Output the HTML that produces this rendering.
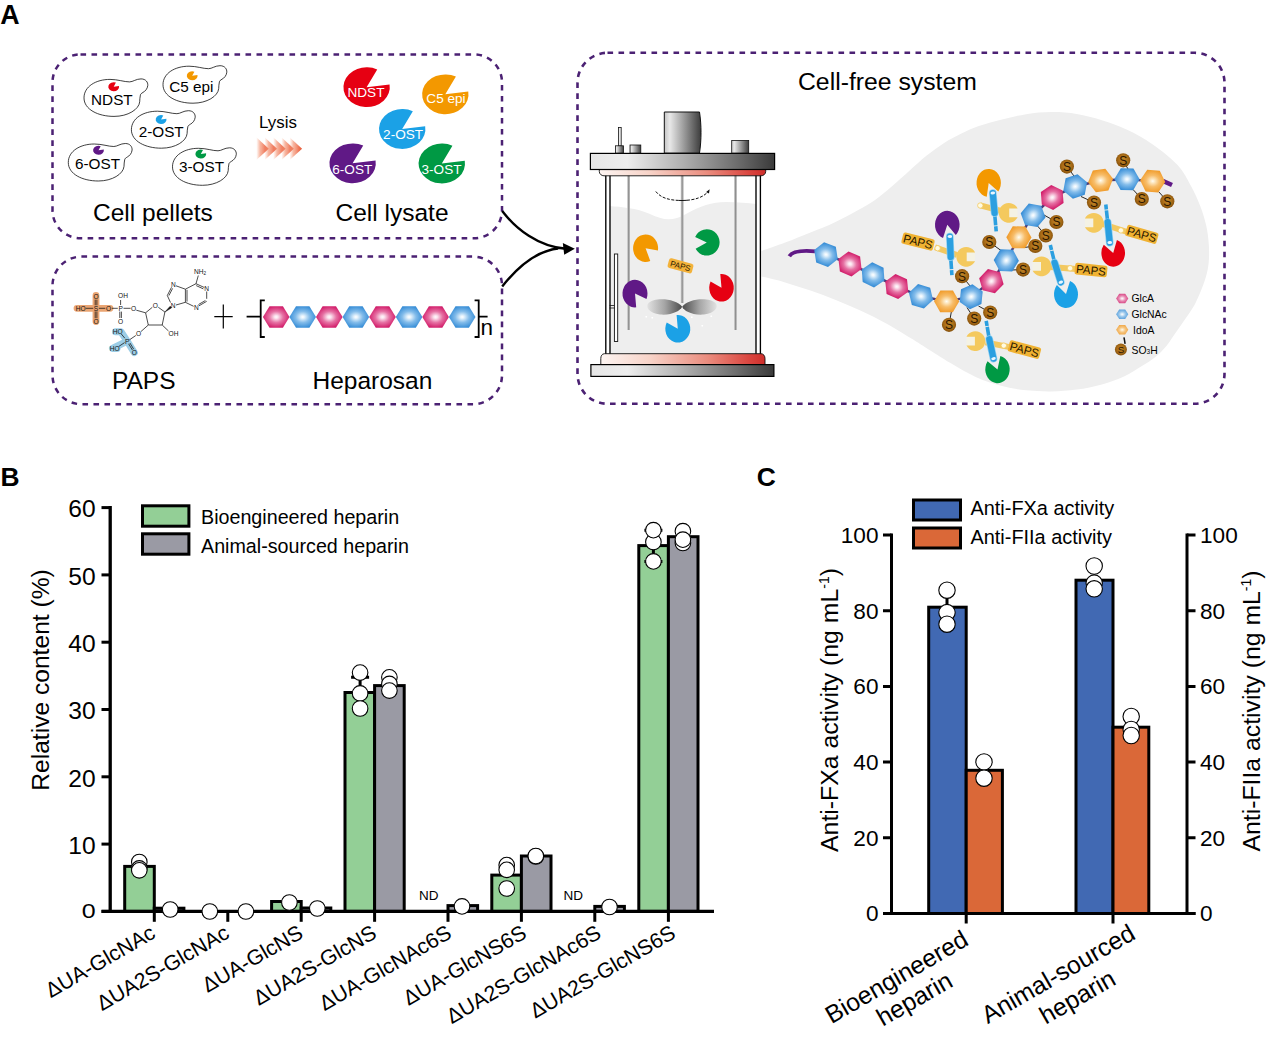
<!DOCTYPE html>
<html lang="en"><head><meta charset="utf-8"><title>Cell-free heparin biosynthesis</title>
<style>
html,body{margin:0;padding:0;background:#fff;}
body{width:1268px;height:1058px;overflow:hidden;font-family:"Liberation Sans", sans-serif;}
svg{display:block;}
svg text{font-family:"Liberation Sans", sans-serif;fill:#000;}
</style></head><body>
<svg width="1268" height="1058" viewBox="0 0 1268 1058">
<defs>
<radialGradient id="hxP" cx="50%" cy="50%" r="58%"><stop offset="0" stop-color="#fffafc"/><stop offset="0.12" stop-color="#fbe3ee"/><stop offset="0.45" stop-color="#e672a4"/><stop offset="0.85" stop-color="#d4246f"/><stop offset="1" stop-color="#c71c66"/></radialGradient>
<radialGradient id="hxB" cx="50%" cy="50%" r="58%"><stop offset="0" stop-color="#ffffff"/><stop offset="0.12" stop-color="#e4f2fc"/><stop offset="0.45" stop-color="#83bcea"/><stop offset="0.85" stop-color="#3e92d9"/><stop offset="1" stop-color="#2f86d0"/></radialGradient>
<radialGradient id="hxO" cx="50%" cy="50%" r="58%"><stop offset="0" stop-color="#fffdf6"/><stop offset="0.12" stop-color="#fdeccb"/><stop offset="0.45" stop-color="#f7bd6a"/><stop offset="0.85" stop-color="#f19f31"/><stop offset="1" stop-color="#ea9525"/></radialGradient>
<linearGradient id="chev" x1="0" y1="0" x2="1" y2="0"><stop offset="0" stop-color="#f7a78a" stop-opacity="0"/><stop offset="0.3" stop-color="#f4987a" stop-opacity="0.7"/><stop offset="0.75" stop-color="#ee7455"/><stop offset="1" stop-color="#e65634"/></linearGradient>
<filter id="blur1" x="-20%" y="-20%" width="140%" height="140%"><feGaussianBlur stdDeviation="0.7"/></filter>

<linearGradient id="lidG" x1="0" y1="0" x2="1" y2="0"><stop offset="0" stop-color="#e6e6e6"/><stop offset="0.2" stop-color="#ededed"/><stop offset="0.5" stop-color="#b0b0b0"/><stop offset="0.8" stop-color="#6c6c6c"/><stop offset="1" stop-color="#3a3a3a"/></linearGradient>
<linearGradient id="motG" x1="0" y1="0" x2="1" y2="0"><stop offset="0" stop-color="#c4c4c4"/><stop offset="0.15" stop-color="#e8e8e8"/><stop offset="0.6" stop-color="#8e8e8e"/><stop offset="1" stop-color="#3c3c3c"/></linearGradient>
<linearGradient id="redG" x1="0" y1="0" x2="1" y2="0"><stop offset="0" stop-color="#fdf5f2"/><stop offset="0.3" stop-color="#f7d3c8"/><stop offset="0.65" stop-color="#ea8c7e"/><stop offset="0.9" stop-color="#da4640"/><stop offset="1" stop-color="#cf2e2b"/></linearGradient>
<linearGradient id="rodG" x1="0" y1="0" x2="1" y2="0"><stop offset="0" stop-color="#d0d0d0"/><stop offset="0.5" stop-color="#8f8f8f"/><stop offset="1" stop-color="#c4c4c4"/></linearGradient>
<linearGradient id="bladeL" x1="0" y1="0" x2="1" y2="0"><stop offset="0" stop-color="#e2e2e2"/><stop offset="0.5" stop-color="#a5a5a5"/><stop offset="1" stop-color="#4c4c4c"/></linearGradient>
<linearGradient id="bladeR" x1="0" y1="0" x2="1" y2="0"><stop offset="0" stop-color="#4c4c4c"/><stop offset="0.5" stop-color="#a5a5a5"/><stop offset="1" stop-color="#e2e2e2"/></linearGradient>

<radialGradient id="sG" cx="50%" cy="45%" r="55%"><stop offset="0" stop-color="#c48a2a"/><stop offset="0.6" stop-color="#a96c17"/><stop offset="1" stop-color="#84500c"/></radialGradient>
</defs>
<g id="panelA"><text x="0.3" y="23.7" font-size="26.8" font-weight="bold">A</text><rect x="52.5" y="54.4" width="449.5" height="183.9" rx="28" ry="28" fill="none" stroke="#4b2173" stroke-width="2.5" stroke-dasharray="5.6 5.4"/><rect x="52.5" y="256.6" width="449.5" height="147.59999999999997" rx="29" ry="29" fill="none" stroke="#4b2173" stroke-width="2.5" stroke-dasharray="5.6 5.4"/><rect x="577.5" y="52.8" width="647.0" height="351.0" rx="30" ry="30" fill="none" stroke="#4b2173" stroke-width="2.6" stroke-dasharray="5.6 5.4"/><path d="M502.2,211 C516,229 538,246.5 566,248.8 M502.2,286.5 C516,269 536,251 558,248.5" fill="none" stroke="#000" stroke-width="2.4"/><path d="M574.8,248.8 L562.8,243 L564.2,254.8 Z" fill="#000"/><g transform="translate(84,78.4)"><path d="M0,19.5C0,8 12,1 26,1C34,1 40,3.5 45.5,3.5C49,3.5 52,0.5 57,0.5C62,0.5 64,4 63.8,7C63.5,10.5 61,13 59,14C57.5,15 56.5,15.5 56.4,16.7C56,19 55.7,21 55.7,23.4C55,31 44,38 30,38C14,38 0,31 0,19.5Z" fill="#fff" stroke="#000" stroke-width="0.75"/><path transform="translate(29.7,8.3) rotate(0)" d="M0,0L5.32,-0.75A5.4,4.5 0 1 1 2.19,-4.11Z" fill="#e60012"/><text x="27.9" y="26.5" font-size="15.3" text-anchor="middle">NDST</text></g><g transform="translate(163,65.2)"><path d="M0,19.5C0,8 12,1 26,1C34,1 40,3.5 45.5,3.5C49,3.5 52,0.5 57,0.5C62,0.5 64,4 63.8,7C63.5,10.5 61,13 59,14C57.5,15 56.5,15.5 56.4,16.7C56,19 55.7,21 55.7,23.4C55,31 44,38 30,38C14,38 0,31 0,19.5Z" fill="#fff" stroke="#000" stroke-width="0.75"/><path transform="translate(29.2,10.6) rotate(0)" d="M0,0L5.32,-0.75A5.4,4.5 0 1 1 2.19,-4.11Z" fill="#f39800"/><text x="28.4" y="26.8" font-size="15.3" text-anchor="middle">C5 epi</text></g><g transform="translate(131.4,110.2)"><path d="M0,19.5C0,8 12,1 26,1C34,1 40,3.5 45.5,3.5C49,3.5 52,0.5 57,0.5C62,0.5 64,4 63.8,7C63.5,10.5 61,13 59,14C57.5,15 56.5,15.5 56.4,16.7C56,19 55.7,21 55.7,23.4C55,31 44,38 30,38C14,38 0,31 0,19.5Z" fill="#fff" stroke="#000" stroke-width="0.75"/><path transform="translate(29.7,9.3) rotate(0)" d="M0,0L5.32,-0.75A5.4,4.5 0 1 1 2.19,-4.11Z" fill="#1ba1e6"/><text x="29.8" y="27.3" font-size="15.3" text-anchor="middle">2-OST</text></g><g transform="translate(68.3,143)"><path d="M0,19.5C0,8 12,1 26,1C34,1 40,3.5 45.5,3.5C49,3.5 52,0.5 57,0.5C62,0.5 64,4 63.8,7C63.5,10.5 61,13 59,14C57.5,15 56.5,15.5 56.4,16.7C56,19 55.7,21 55.7,23.4C55,31 44,38 30,38C14,38 0,31 0,19.5Z" fill="#fff" stroke="#000" stroke-width="0.75"/><path transform="translate(30.2,7.3) rotate(0)" d="M0,0L5.32,-0.75A5.4,4.5 0 1 1 2.19,-4.11Z" fill="#601986"/><text x="29.2" y="25.5" font-size="15.3" text-anchor="middle">6-OST</text></g><g transform="translate(172.5,147.3)"><path d="M0,19.5C0,8 12,1 26,1C34,1 40,3.5 45.5,3.5C49,3.5 52,0.5 57,0.5C62,0.5 64,4 63.8,7C63.5,10.5 61,13 59,14C57.5,15 56.5,15.5 56.4,16.7C56,19 55.7,21 55.7,23.4C55,31 44,38 30,38C14,38 0,31 0,19.5Z" fill="#fff" stroke="#000" stroke-width="0.75"/><path transform="translate(28.3,6.7) rotate(0)" d="M0,0L5.32,-0.75A5.4,4.5 0 1 1 2.19,-4.11Z" fill="#009944"/><text x="29" y="24.8" font-size="15.3" text-anchor="middle">3-OST</text></g><text x="93" y="221" font-size="24.5">Cell pellets</text><text x="259" y="127.5" font-size="16.9">Lysis</text><g filter="url(#blur1)"><path d="M256.3,137.2L268.8,148.8L256.3,160Z" fill="url(#chev)"/><path d="M264.6,137.2L277.1,148.8L264.6,160Z" fill="url(#chev)"/><path d="M273.2,137.2L285.7,148.8L273.2,160Z" fill="url(#chev)"/><path d="M281.4,137.2L293.9,148.8L281.4,160Z" fill="url(#chev)"/><path d="M289.6,137.2L302.1,148.8L289.6,160Z" fill="url(#chev)"/></g><path transform="translate(366.6,87.2) rotate(0)" d="M0,0L22.97,-2.82A23.2,19.9 0 1 1 10.63,-17.69Z" fill="#e60012"/><text x="366" y="97" font-size="13.6" text-anchor="middle" style="fill:#fff">NDST</text><path transform="translate(445.3,94.3) rotate(0)" d="M0,0L22.97,-2.82A23.2,19.9 0 1 1 10.63,-17.69Z" fill="#f39800"/><text x="446" y="102.5" font-size="13.6" text-anchor="middle" style="fill:#fff">C5 epi</text><path transform="translate(402.2,129.0) rotate(0)" d="M0,0L22.97,-2.82A23.2,19.9 0 1 1 10.63,-17.69Z" fill="#1ba1e6"/><text x="403.1" y="139.4" font-size="13.6" text-anchor="middle" style="fill:#fff">2-OST</text><path transform="translate(352.6,163.3) rotate(0)" d="M0,0L22.97,-2.82A23.2,19.9 0 1 1 10.63,-17.69Z" fill="#601986"/><text x="352.3" y="173.7" font-size="13.6" text-anchor="middle" style="fill:#fff">6-OST</text><path transform="translate(441.8,163.5) rotate(0)" d="M0,0L22.97,-2.82A23.2,19.9 0 1 1 10.63,-17.69Z" fill="#009944"/><text x="441.5" y="173.7" font-size="13.6" text-anchor="middle" style="fill:#fff">3-OST</text><text x="335.5" y="221" font-size="24.5">Cell lysate</text><text x="112" y="389" font-size="24.5">PAPS</text><text x="312.5" y="389" font-size="24.5">Heparosan</text><path d="M214.3,316.6H232.7M223.3,304.6V328.6" stroke="#000" stroke-width="1.2" fill="none"/><path transform="translate(276.2,317.0) rotate(0)" d="M-13.3,0.0L-6.7,-10.7L6.7,-10.7L13.3,0.0L6.7,10.7L-6.7,10.7Z" fill="url(#hxP)" /><path transform="translate(302.7,317.0) rotate(0)" d="M-13.3,0.0L-6.7,-10.7L6.7,-10.7L13.3,0.0L6.7,10.7L-6.7,10.7Z" fill="url(#hxB)" /><path transform="translate(329.3,317.0) rotate(0)" d="M-13.3,0.0L-6.7,-10.7L6.7,-10.7L13.3,0.0L6.7,10.7L-6.7,10.7Z" fill="url(#hxP)" /><path transform="translate(355.9,317.0) rotate(0)" d="M-13.3,0.0L-6.7,-10.7L6.7,-10.7L13.3,0.0L6.7,10.7L-6.7,10.7Z" fill="url(#hxB)" /><path transform="translate(382.5,317.0) rotate(0)" d="M-13.3,0.0L-6.7,-10.7L6.7,-10.7L13.3,0.0L6.7,10.7L-6.7,10.7Z" fill="url(#hxP)" /><path transform="translate(409.1,317.0) rotate(0)" d="M-13.3,0.0L-6.7,-10.7L6.7,-10.7L13.3,0.0L6.7,10.7L-6.7,10.7Z" fill="url(#hxB)" /><path transform="translate(435.6,317.0) rotate(0)" d="M-13.3,0.0L-6.7,-10.7L6.7,-10.7L13.3,0.0L6.7,10.7L-6.7,10.7Z" fill="url(#hxP)" /><path transform="translate(462.2,317.0) rotate(0)" d="M-13.3,0.0L-6.7,-10.7L6.7,-10.7L13.3,0.0L6.7,10.7L-6.7,10.7Z" fill="url(#hxB)" /><path d="M246.6,316.6H260.7M264.8,300.4H260.7V337H264.8M474.6,300.4H478.7V337H474.6M478.7,316.6H487.6" stroke="#000" stroke-width="1.8" fill="none"/><text x="480.6" y="335.3" font-size="22.5">n</text><g id="paps-mol"><path d="M77,308.3H110M96,295.5V321.5" stroke="#e9a06b" stroke-width="6.8" stroke-linecap="round" fill="none" opacity="0.95"/><path d="M115.5,331.8H121L127.2,341.2L134.3,352.6M127.2,341.2L112.5,348.5H117" stroke="#9ccde6" stroke-width="7" stroke-linecap="round" stroke-linejoin="round" fill="none"/><path d="M85.8,308.3H93.3M98.8,308.3H105.3M95.2,299.6V305.3M96.9,299.6V305.3M95.2,311.4V318.2M96.9,311.4V318.2M111.8,308.3H117.8M120.6,300V305M119.8,311.6V318M121.4,311.6V318M123.5,308.3H130.6M136.3,310.2L145.6,312.8M145.6,312.8L152.3,307.3M158.3,307.3L164.9,312M164.9,312L162.2,325M162.2,325H148.3M148.3,325L145.6,312.8M148.3,325L141,331.5M162.2,325L168.5,331M135.8,335.5L129.5,339.8M124.8,338.2L121.3,334M124.6,342.6L119,346.3M128.6,343.8L132.4,350M129.9,343L133.7,349.2M170.5,302.5L167.3,295.5M167.3,295.5L171.5,287.3M168.9,295.6L172.6,288.4M176,285.8L185.4,289.2M185.4,289.2V302.3M185.4,302.3L176,305M185.4,289.2L196,283.7M196,283.7L204.3,287.5M196.2,285.6L203.4,288.9M206.7,291.5V298.8M206.7,301.3L199,305.8M205.4,300.5L198.5,304.5M193.6,306.3L185.4,302.3M187,289.8V301.6M196,283.7L198.3,275.5" stroke="#111" stroke-width="0.75" fill="none"/><path d="M164.9,312L170.2,306.2L171.6,307.8Z" fill="#111" stroke="#111" stroke-width="0.5"/><text x="80.7" y="310.7" font-size="6.6" text-anchor="middle" style="fill:#111">HO</text><text x="96" y="310.7" font-size="6.6" text-anchor="middle" style="fill:#111">S</text><text x="96" y="298.9" font-size="6.6" text-anchor="middle" style="fill:#111">O</text><text x="96" y="323.7" font-size="6.6" text-anchor="middle" style="fill:#111">O</text><text x="108.6" y="310.7" font-size="6.6" text-anchor="middle" style="fill:#111">O</text><text x="120.6" y="310.7" font-size="6.6" text-anchor="middle" style="fill:#111">P</text><text x="123" y="298.4" font-size="6.6" text-anchor="middle" style="fill:#111">OH</text><text x="120.6" y="323.5" font-size="6.6" text-anchor="middle" style="fill:#111">O</text><text x="133.5" y="311.0" font-size="6.6" text-anchor="middle" style="fill:#111">O</text><text x="155.4" y="308.0" font-size="6.6" text-anchor="middle" style="fill:#111">O</text><text x="173.5" y="335.9" font-size="6.6" text-anchor="middle" style="fill:#111">OH</text><text x="138.5" y="335.9" font-size="6.6" text-anchor="middle" style="fill:#111">O</text><text x="127.2" y="343.7" font-size="6.6" text-anchor="middle" style="fill:#111">P</text><text x="117.8" y="334.2" font-size="6.6" text-anchor="middle" style="fill:#111">HO</text><text x="114.6" y="350.9" font-size="6.6" text-anchor="middle" style="fill:#111">HO</text><text x="134.3" y="355.0" font-size="6.6" text-anchor="middle" style="fill:#111">O</text><text x="173.2" y="308.1" font-size="6.6" text-anchor="middle" style="fill:#111">N</text><text x="173.4" y="287.4" font-size="6.6" text-anchor="middle" style="fill:#111">N</text><text x="206.7" y="291.3" font-size="6.6" text-anchor="middle" style="fill:#111">N</text><text x="196.4" y="309.9" font-size="6.6" text-anchor="middle" style="fill:#111">N</text><text x="194" y="273.8" font-size="6.6" style="fill:#111">NH<tspan font-size="4.6" dy="1.4">2</tspan></text></g><path d="M761.5,251C765.5,249.6 777.0,245.7 785.2,242.6C793.4,239.5 802.3,235.8 810.5,232.5C818.7,229.2 826.7,226.2 834.5,222.5C842.3,218.8 850.6,214.2 857.3,210.5C864.0,206.8 868.9,204.2 874.7,200.2C880.5,196.2 886.2,191.2 892,186.3C897.8,181.4 903.6,175.8 909.4,170.7C915.2,165.6 920.9,160.1 926.7,155.5C932.5,150.9 938.3,146.7 944.1,143C949.9,139.3 955.6,136.3 961.4,133.5C967.2,130.7 972.2,128.3 978.8,126C985.4,123.7 993.1,121.7 1001,119.7C1008.9,117.7 1017.8,115.5 1026.2,114.2C1034.6,112.9 1043.0,112.1 1051.4,112.1C1059.8,112.0 1068.3,112.6 1076.7,113.9C1085.1,115.2 1093.5,117.5 1101.9,120.2C1110.3,122.9 1118.7,125.8 1127.1,129.8C1135.5,133.8 1144.0,138.3 1152.4,144.2C1160.8,150.1 1171.2,158.0 1177.6,165C1184.0,172.0 1187.2,179.1 1191,186C1194.8,192.9 1198.0,200.1 1200.5,206.7C1203.0,213.3 1204.8,219.3 1206.2,225.6C1207.6,231.9 1208.4,238.2 1208.8,244.5C1209.2,250.8 1209.3,257.3 1208.6,263.4C1207.9,269.5 1206.7,274.6 1204.6,281C1202.5,287.4 1198.5,296.7 1196,302C1193.5,307.3 1191.8,309.3 1189.4,313C1187.0,316.7 1184.2,320.5 1181.6,324.2C1179.0,327.9 1176.5,331.5 1173.9,335.2C1171.3,338.9 1169.3,342.5 1166.2,346.2C1163.1,349.9 1159.1,354.0 1155.1,357.3C1151.0,360.6 1147.1,362.9 1141.9,366.1C1136.7,369.3 1130.7,373.4 1124,376.5C1117.3,379.6 1109.8,382.3 1101.9,384.5C1094.0,386.7 1085.1,388.5 1076.7,389.6C1068.3,390.8 1059.8,391.3 1051.4,391.4C1043.0,391.5 1034.6,391.2 1026.2,390.3C1017.8,389.4 1009.4,388.0 1001,385.8C992.6,383.6 984.1,380.8 975.7,377C967.3,373.2 958.9,368.1 950.5,363.1C942.1,358.2 931.7,351.4 925.2,347.3C918.7,343.2 917.9,342.6 911.4,338.6C904.9,334.6 894.6,328.0 886.2,323.4C877.8,318.8 869.3,314.7 860.9,310.8C852.5,306.9 844.1,303.4 835.7,300C827.3,296.6 818.9,293.5 810.5,290.6C802.1,287.7 793.4,284.8 785.2,282.4C777.0,280.0 765.5,277.5 761.5,276.5Z" fill="#eeeeee"/><g id="reactor"><path d="M609.5,206 C622,207 636,208 650,214 C663,220 672,222 686,214 C700,206 712,202 726,202 C738,202 748,203 756,204 V354 H609.5Z" fill="#eeeeee"/><path d="M605.8,175V355M610,175V355M756,175V355M760.4,175V355" stroke="#000" stroke-width="1.35" fill="none"/><rect x="627.2" y="175" width="2.8" height="155" fill="url(#rodG)"/><rect x="734.1" y="175" width="2.8" height="155" fill="url(#rodG)"/><rect x="680.7" y="175" width="3" height="128" fill="url(#rodG)"/><path d="M655.8,191.5 C661,198 669,200.4 682,200.5 C695,200.4 704,197 708.6,191" stroke="#111" stroke-width="1" fill="none" stroke-dasharray="3 1.5 3 1.5 3 1.5 3 1.5 3 1.5 14 1.5 3 1.5 3 1.5 3 1.5 3 1.5 3 1.5 3 1.5"/><path d="M709.6,189.2L706.2,192L709,193.4Z" fill="#111"/><rect x="614.4" y="254" width="3.3" height="87.5" fill="#fff" stroke="#111" stroke-width="0.9"/><path d="M609.6,305.5H614.4M609.6,308H614.4" stroke="#111" stroke-width="0.8"/><path d="M682.2,306.8 C676,298 654,297 648.5,303 C645,307 649,313 660,314.5 C672,315.5 680,311 682.2,306.8Z" fill="url(#bladeL)"/><path d="M682.2,306.8 C688,298 710,297 715.5,303 C719,307 715,313 704,314.5 C692,315.5 684,311 682.2,306.8Z" fill="url(#bladeR)"/><path d="M645.5,316h1.6v1.6h-1.6zM651.5,317h1.6v1.6h-1.6zM691,316.5h1.6v1.6h-1.6zM701.5,325h1.6v1.6h-1.6zM710.5,315.5h1.6v1.6h-1.6z" fill="#fff"/><path d="M599.3,169H765.7V171.5C765.7,174 763.5,175.8 761,175.8H604C601.5,175.8 599.3,174 599.3,171.5Z" fill="url(#redG)" stroke="#111" stroke-width="0.9"/><rect x="590.4" y="153.4" width="184.2" height="16.1" fill="url(#lidG)" stroke="#000" stroke-width="1.2"/><path d="M664.3,112H699.5C701.5,125 701.5,140 699.5,153H664.3Z" fill="url(#motG)" stroke="#111" stroke-width="1"/><rect x="618.6" y="127.5" width="2.6" height="18.5" fill="#e8e8e8" stroke="#111" stroke-width="0.8"/><rect x="615.4" y="145.8" width="8" height="7.2" fill="url(#motG)" stroke="#111" stroke-width="0.8"/><rect x="630" y="145" width="10.8" height="8" fill="url(#motG)" stroke="#111" stroke-width="0.8"/><rect x="731.7" y="140.4" width="17" height="12.6" fill="url(#motG)" stroke="#111" stroke-width="0.8"/><path d="M604.5,353.7H761C763.5,353.7 765,356 765,358.5V364.8H600.8V358.5C600.8,356 602,353.7 604.5,353.7Z" fill="url(#redG)" stroke="#111" stroke-width="0.9"/><rect x="590.9" y="364.6" width="183" height="11.8" fill="url(#lidG)" stroke="#000" stroke-width="1.2"/><path transform="translate(645.6,248.2) rotate(0)" d="M0,0L4.66,12.80A12.5,13.8 0 1 1 12.34,2.18Z" fill="#f39800"/><path transform="translate(706.8,242.4) rotate(0)" d="M0,0L-11.66,-5.44A12.8,13.2 0 1 1 -11.17,6.45Z" fill="#009944"/><path transform="translate(635.0,293.6) rotate(0)" d="M0,0L1.20,13.74A12.5,13.8 0 1 1 11.51,5.37Z" fill="#601986"/><path transform="translate(721.5,287.8) rotate(0)" d="M0,0L-1.20,-13.73A12.3,13.8 0 1 1 -10.94,-6.31Z" fill="#e60012"/><path transform="translate(677.8,328.8) rotate(0)" d="M0,0L-1.20,-13.74A12.5,13.8 0 1 1 -11.08,-6.40Z" fill="#1ba1e6"/><g transform="translate(680.5,265.8) rotate(15)"><rect x="-12.6" y="-5" width="25.2" height="10" rx="2.3" fill="#f3b23a"/><text x="0" y="2.9" font-size="8" text-anchor="middle" style="fill:#2a1a00">PAPS</text></g></g><text x="798" y="89.8" font-size="24.75">Cell-free system</text><g id="chain"><path d="M789.3,256.2 C792,251.8 800,250 815,251.3" stroke="#601986" stroke-width="3.8" fill="none"/><path d="M1163,181L1172,185" stroke="#601986" stroke-width="4.6" fill="none"/><path d="M949,324.8L951.3,312" stroke="#111" stroke-width="0.9"/><path d="M974.2,318.6L967,307.5" stroke="#111" stroke-width="0.9"/><path d="M990.2,312.5L978.5,306" stroke="#111" stroke-width="0.9"/><path d="M962.1,276.2L970.5,286.5" stroke="#111" stroke-width="0.9"/><path d="M989.3,242L1001,250.5" stroke="#111" stroke-width="0.9"/><path d="M1023.1,269.6L1011.5,270" stroke="#111" stroke-width="0.9"/><path d="M1035.3,246L1024,247.5" stroke="#111" stroke-width="0.9"/><path d="M1045.8,235.5L1037.5,226" stroke="#111" stroke-width="0.9"/><path d="M1056.4,222L1044,215" stroke="#111" stroke-width="0.9"/><path d="M1066.9,166.6L1074,176" stroke="#111" stroke-width="0.9"/><path d="M1094,202.5L1081,196.5" stroke="#111" stroke-width="0.9"/><path d="M1123.2,160.3L1128,169" stroke="#111" stroke-width="0.9"/><path d="M1141.8,199L1133,189.5" stroke="#111" stroke-width="0.9"/><path d="M1167.3,201.3L1158.5,191.5" stroke="#111" stroke-width="0.9"/><path d="M826,254.6L850,263.9L873.1,274.9L896.8,286.6L921,296.3L946.6,301.4L971.2,296.7L991.4,281.2L1006.3,260.4L1018.9,237.3L1033.1,215.3L1052.2,197.5L1075.2,186.5L1100.6,180.5L1127,179.2L1152.7,181.1" stroke="#4a3a78" stroke-width="2.4" fill="none"/><path transform="translate(826.0,254.6) rotate(21.2)" d="M-12.6,0.0L-6.3,-10.9L6.3,-10.9L12.6,0.0L6.3,10.9L-6.3,10.9Z" fill="url(#hxB)" /><path transform="translate(850.0,263.9) rotate(23.3)" d="M-12.6,0.0L-6.3,-10.9L6.3,-10.9L12.6,0.0L6.3,10.9L-6.3,10.9Z" fill="url(#hxP)" /><path transform="translate(873.1,274.9) rotate(25.9)" d="M-12.6,0.0L-6.3,-10.9L6.3,-10.9L12.6,0.0L6.3,10.9L-6.3,10.9Z" fill="url(#hxB)" /><path transform="translate(896.8,286.6) rotate(24.1)" d="M-12.6,0.0L-6.3,-10.9L6.3,-10.9L12.6,0.0L6.3,10.9L-6.3,10.9Z" fill="url(#hxP)" /><path transform="translate(921.0,296.3) rotate(16.6)" d="M-12.6,0.0L-6.3,-10.9L6.3,-10.9L12.6,0.0L6.3,10.9L-6.3,10.9Z" fill="url(#hxB)" /><path transform="translate(946.6,301.4) rotate(0.5)" d="M-12.6,0.0L-6.3,-10.9L6.3,-10.9L12.6,0.0L6.3,10.9L-6.3,10.9Z" fill="url(#hxO)" /><path transform="translate(971.2,296.7) rotate(-24.3)" d="M-12.6,0.0L-6.3,-10.9L6.3,-10.9L12.6,0.0L6.3,10.9L-6.3,10.9Z" fill="url(#hxB)" /><path transform="translate(991.4,281.2) rotate(-46.0)" d="M-12.6,0.0L-6.3,-10.9L6.3,-10.9L12.6,0.0L6.3,10.9L-6.3,10.9Z" fill="url(#hxP)" /><path transform="translate(1006.3,260.4) rotate(-57.9)" d="M-12.6,0.0L-6.3,-10.9L6.3,-10.9L12.6,0.0L6.3,10.9L-6.3,10.9Z" fill="url(#hxB)" /><path transform="translate(1018.9,237.3) rotate(-59.3)" d="M-12.6,0.0L-6.3,-10.9L6.3,-10.9L12.6,0.0L6.3,10.9L-6.3,10.9Z" fill="url(#hxO)" /><path transform="translate(1033.1,215.3) rotate(-50.1)" d="M-12.6,0.0L-6.3,-10.9L6.3,-10.9L12.6,0.0L6.3,10.9L-6.3,10.9Z" fill="url(#hxB)" /><path transform="translate(1052.2,197.5) rotate(-34.4)" d="M-12.6,0.0L-6.3,-10.9L6.3,-10.9L12.6,0.0L6.3,10.9L-6.3,10.9Z" fill="url(#hxP)" /><path transform="translate(1075.2,186.5) rotate(-19.4)" d="M-12.6,0.0L-6.3,-10.9L6.3,-10.9L12.6,0.0L6.3,10.9L-6.3,10.9Z" fill="url(#hxB)" /><path transform="translate(1100.6,180.5) rotate(-8.0)" d="M-12.6,0.0L-6.3,-10.9L6.3,-10.9L12.6,0.0L6.3,10.9L-6.3,10.9Z" fill="url(#hxO)" /><path transform="translate(1127.0,179.2) rotate(0.7)" d="M-12.6,0.0L-6.3,-10.9L6.3,-10.9L12.6,0.0L6.3,10.9L-6.3,10.9Z" fill="url(#hxB)" /><path transform="translate(1152.7,181.1) rotate(4.2)" d="M-12.6,0.0L-6.3,-10.9L6.3,-10.9L12.6,0.0L6.3,10.9L-6.3,10.9Z" fill="url(#hxO)" /><circle cx="949" cy="324.8" r="7.1" fill="url(#sG)"/><text x="949" y="329.1" font-size="12" text-anchor="middle" style="fill:#2a1500">S</text><circle cx="974.2" cy="318.6" r="7.1" fill="url(#sG)"/><text x="974.2" y="322.9" font-size="12" text-anchor="middle" style="fill:#2a1500">S</text><circle cx="990.2" cy="312.5" r="7.1" fill="url(#sG)"/><text x="990.2" y="316.8" font-size="12" text-anchor="middle" style="fill:#2a1500">S</text><circle cx="962.1" cy="276.2" r="7.1" fill="url(#sG)"/><text x="962.1" y="280.5" font-size="12" text-anchor="middle" style="fill:#2a1500">S</text><circle cx="989.3" cy="242" r="7.1" fill="url(#sG)"/><text x="989.3" y="246.3" font-size="12" text-anchor="middle" style="fill:#2a1500">S</text><circle cx="1023.1" cy="269.6" r="7.1" fill="url(#sG)"/><text x="1023.1" y="273.9" font-size="12" text-anchor="middle" style="fill:#2a1500">S</text><circle cx="1035.3" cy="246" r="7.1" fill="url(#sG)"/><text x="1035.3" y="250.3" font-size="12" text-anchor="middle" style="fill:#2a1500">S</text><circle cx="1045.8" cy="235.5" r="7.1" fill="url(#sG)"/><text x="1045.8" y="239.8" font-size="12" text-anchor="middle" style="fill:#2a1500">S</text><circle cx="1056.4" cy="222" r="7.1" fill="url(#sG)"/><text x="1056.4" y="226.3" font-size="12" text-anchor="middle" style="fill:#2a1500">S</text><circle cx="1066.9" cy="166.6" r="7.1" fill="url(#sG)"/><text x="1066.9" y="170.9" font-size="12" text-anchor="middle" style="fill:#2a1500">S</text><circle cx="1094" cy="202.5" r="7.1" fill="url(#sG)"/><text x="1094" y="206.8" font-size="12" text-anchor="middle" style="fill:#2a1500">S</text><circle cx="1123.2" cy="160.3" r="7.1" fill="url(#sG)"/><text x="1123.2" y="164.6" font-size="12" text-anchor="middle" style="fill:#2a1500">S</text><circle cx="1141.8" cy="199" r="7.1" fill="url(#sG)"/><text x="1141.8" y="203.3" font-size="12" text-anchor="middle" style="fill:#2a1500">S</text><circle cx="1167.3" cy="201.3" r="7.1" fill="url(#sG)"/><text x="1167.3" y="205.6" font-size="12" text-anchor="middle" style="fill:#2a1500">S</text><path d="M935,247.3L957,255" stroke="#f2c860" stroke-width="5.8"/><circle cx="937.6" cy="248.2" r="2.7" fill="#fffbe3" stroke="#f2c860" stroke-width="0.8"/><g transform="translate(918,241.6) rotate(14)"><rect x="-16.2" y="-5.8" width="32.4" height="11.6" rx="2.2" fill="#f0b232"/><text x="0" y="4.1" font-size="11.5" text-anchor="middle" style="fill:#2a1800">PAPS</text></g><g transform="translate(966.2,256.8) scale(1,1)"><rect x="0.3" y="-4.4" width="8.6" height="8.8" fill="#f4f2e4"/><path d="M8.9,-4.4L0.5,-4.4L0.5,4.4L8.9,4.4A9.9,9.9 0 1 1 8.9,-4.4Z" fill="#f4c95d"/></g><path d="M951.9,275.2L950.7,257" stroke="#2b9fe0" stroke-width="3.6" stroke-dasharray="5.1 0.9 9.1 0.9 18.2" fill="none"/><path d="M950.7,257L949.8,236.5" stroke="#8fd0f2" stroke-width="7.6" stroke-linecap="round" fill="none"/><path d="M950.7,257L949.8,236.5" stroke="#2b9fe0" stroke-width="6.2" stroke-linecap="round" fill="none"/><ellipse transform="translate(949.8,236.5) rotate(-182.5)" rx="2.3" ry="1.5" fill="#e9f7ff"/><path transform="translate(947.3,224.8) rotate(0)" d="M0,0L-4.27,13.13A12.3,14 0 1 1 8.50,10.12Z" fill="#601986"/><path d="M980.3,205.4L1000,210.6" stroke="#f2c860" stroke-width="5.8"/><circle cx="980.3" cy="205.5" r="2.7" fill="#fffbe3" stroke="#f2c860" stroke-width="0.8"/><g transform="translate(1008.7,212.9) scale(1,1)"><rect x="0.3" y="-4.4" width="8.6" height="8.8" fill="#f4f2e4"/><path d="M8.9,-4.4L0.5,-4.4L0.5,4.4L8.9,4.4A9.9,9.9 0 1 1 8.9,-4.4Z" fill="#f4c95d"/></g><path d="M996.2,231.4L994.6,213" stroke="#2b9fe0" stroke-width="3.6" stroke-dasharray="5.2 0.9 9.2 0.9 18.5" fill="none"/><path d="M994.6,213L992.8,193" stroke="#8fd0f2" stroke-width="7.6" stroke-linecap="round" fill="none"/><path d="M994.6,213L992.8,193" stroke="#2b9fe0" stroke-width="6.2" stroke-linecap="round" fill="none"/><ellipse transform="translate(992.8,193) rotate(-185.1)" rx="2.3" ry="1.5" fill="#e9f7ff"/><path transform="translate(988.7,182.9) rotate(0)" d="M0,0L-1.94,13.82A12.2,14 0 1 1 9.60,8.64Z" fill="#f39800"/><g transform="translate(1041.5,266.3) scale(-1,1)"><rect x="0.3" y="-4.4" width="8.6" height="8.8" fill="#f4f2e4"/><path d="M8.9,-4.4L0.5,-4.4L0.5,4.4L8.9,4.4A9.9,9.9 0 1 1 8.9,-4.4Z" fill="#f4c95d"/></g><path d="M1050.5,267L1076,269" stroke="#f2c860" stroke-width="5.8"/><circle cx="1070.1" cy="268.2" r="2.7" fill="#fffbe3" stroke="#f2c860" stroke-width="0.8"/><g transform="translate(1091,270.1) rotate(6)"><rect x="-16.2" y="-5.8" width="32.4" height="11.6" rx="2.2" fill="#f0b232"/><text x="0" y="4.1" font-size="11.5" text-anchor="middle" style="fill:#2a1800">PAPS</text></g><path transform="translate(1066.0,294.1) rotate(0)" d="M0,0L4.01,-13.10A12,13.9 0 1 1 -9.08,-9.08Z" fill="#1ba1e6"/><path d="M1050.3,245L1054.6,262.6" stroke="#2b9fe0" stroke-width="3.6" stroke-dasharray="5.1 0.9 9.1 0.9 18.1" fill="none"/><path d="M1054.6,262.6L1060.8,282.2" stroke="#8fd0f2" stroke-width="7.6" stroke-linecap="round" fill="none"/><path d="M1054.6,262.6L1060.8,282.2" stroke="#2b9fe0" stroke-width="6.2" stroke-linecap="round" fill="none"/><ellipse transform="translate(1060.8,282.2) rotate(-17.6)" rx="2.3" ry="1.5" fill="#e9f7ff"/><g transform="translate(1093.8,222.8) scale(-1,1)"><rect x="0.3" y="-4.4" width="8.6" height="8.8" fill="#f4f2e4"/><path d="M8.9,-4.4L0.5,-4.4L0.5,4.4L8.9,4.4A9.9,9.9 0 1 1 8.9,-4.4Z" fill="#f4c95d"/></g><path d="M1102.6,224L1126.5,231.8" stroke="#f2c860" stroke-width="5.8"/><circle cx="1120.9" cy="230.4" r="2.7" fill="#fffbe3" stroke="#f2c860" stroke-width="0.8"/><g transform="translate(1141.8,234.4) rotate(16)"><rect x="-16.2" y="-5.8" width="32.4" height="11.6" rx="2.2" fill="#f0b232"/><text x="0" y="4.1" font-size="11.5" text-anchor="middle" style="fill:#2a1800">PAPS</text></g><path transform="translate(1113.2,253.0) rotate(0)" d="M0,0L3.73,-13.00A11.8,13.7 0 1 1 -9.45,-8.21Z" fill="#e60012"/><path d="M1105.8,204.5L1107.7,222.2" stroke="#2b9fe0" stroke-width="3.6" stroke-dasharray="5.0 0.9 8.9 0.9 17.8" fill="none"/><path d="M1107.7,222.2L1109.7,242.6" stroke="#8fd0f2" stroke-width="7.6" stroke-linecap="round" fill="none"/><path d="M1107.7,222.2L1109.7,242.6" stroke="#2b9fe0" stroke-width="6.2" stroke-linecap="round" fill="none"/><ellipse transform="translate(1109.7,242.6) rotate(-5.6)" rx="2.3" ry="1.5" fill="#e9f7ff"/><g transform="translate(975.4,341.1) scale(-1,1)"><rect x="0.3" y="-4.4" width="8.6" height="8.8" fill="#f4f2e4"/><path d="M8.9,-4.4L0.5,-4.4L0.5,4.4L8.9,4.4A9.9,9.9 0 1 1 8.9,-4.4Z" fill="#f4c95d"/></g><path d="M985.5,342.4L1008.5,346.9" stroke="#f2c860" stroke-width="5.8"/><circle cx="1003.8" cy="345.6" r="2.7" fill="#fffbe3" stroke="#f2c860" stroke-width="0.8"/><g transform="translate(1024.4,349.6) rotate(15)"><rect x="-16.2" y="-5.8" width="32.4" height="11.6" rx="2.2" fill="#f0b232"/><text x="0" y="4.1" font-size="11.5" text-anchor="middle" style="fill:#2a1800">PAPS</text></g><path transform="translate(997.5,369.4) rotate(0)" d="M0,0L2.85,-13.42A12.2,13.8 0 1 1 -9.92,-8.03Z" fill="#009944"/><path d="M986.2,320.9L989.3,339.2" stroke="#2b9fe0" stroke-width="3.6" stroke-dasharray="5.2 0.9 9.3 0.9 18.6" fill="none"/><path d="M989.3,339.2L993.5,358.6" stroke="#8fd0f2" stroke-width="7.6" stroke-linecap="round" fill="none"/><path d="M989.3,339.2L993.5,358.6" stroke="#2b9fe0" stroke-width="6.2" stroke-linecap="round" fill="none"/><ellipse transform="translate(993.5,358.6) rotate(-12.2)" rx="2.3" ry="1.5" fill="#e9f7ff"/><path transform="translate(1122.2,298.5) rotate(0)" d="M-6.1,0.0L-3.0,-4.8L3.0,-4.8L6.1,0.0L3.0,4.8L-3.0,4.8Z" fill="url(#hxP)" opacity="0.8"/><path transform="translate(1122.2,314.3) rotate(0)" d="M-6.1,0.0L-3.0,-4.8L3.0,-4.8L6.1,0.0L3.0,4.8L-3.0,4.8Z" fill="url(#hxB)" opacity="0.8"/><path transform="translate(1122.2,329.8) rotate(0)" d="M-6.1,0.0L-3.0,-4.8L3.0,-4.8L6.1,0.0L3.0,4.8L-3.0,4.8Z" fill="url(#hxO)" opacity="0.85"/><path d="M1124,337.4L1125.1,343.8" stroke="#111" stroke-width="1.5"/><circle cx="1120.9" cy="349.6" r="6" fill="url(#sG)"/><text x="1120.9" y="353.1" font-size="9.8" text-anchor="middle" style="fill:#2a1500">S</text><text x="1131.5" y="302.3" font-size="10.4">GlcA</text><text x="1131.5" y="318" font-size="10.4">GlcNAc</text><text x="1133" y="333.6" font-size="10.4">IdoA</text><text x="1131.5" y="353.5" font-size="10.4">SO<tspan font-size="6.5">3</tspan>H</text></g></g><g id="chartB"><text x="0.6" y="485.9" font-size="26.4" font-weight="bold">B</text><rect x="124.7" y="866.4" width="29.6" height="45.0" fill="#93cf96" stroke="#000" stroke-width="3"/><rect x="154.3" y="908.2" width="29.6" height="3.2" fill="#9a9aa4" stroke="#000" stroke-width="3"/><rect x="271.6" y="901.5" width="29.6" height="9.9" fill="#93cf96" stroke="#000" stroke-width="3"/><rect x="301.2" y="908.0" width="29.6" height="3.4" fill="#9a9aa4" stroke="#000" stroke-width="3"/><rect x="345.0" y="692.5" width="29.6" height="218.9" fill="#93cf96" stroke="#000" stroke-width="3"/><rect x="374.6" y="685.6" width="29.6" height="225.8" fill="#9a9aa4" stroke="#000" stroke-width="3"/><rect x="448.0" y="905.6" width="29.6" height="5.8" fill="#9a9aa4" stroke="#000" stroke-width="3"/><rect x="491.8" y="875.1" width="29.6" height="36.3" fill="#93cf96" stroke="#000" stroke-width="3"/><rect x="521.4" y="856.0" width="29.6" height="55.4" fill="#9a9aa4" stroke="#000" stroke-width="3"/><rect x="594.8" y="906.4" width="29.6" height="5.0" fill="#9a9aa4" stroke="#000" stroke-width="3"/><rect x="638.8" y="545.6" width="29.6" height="365.8" fill="#93cf96" stroke="#000" stroke-width="3"/><rect x="668.4" y="536.7" width="29.6" height="374.7" fill="#9a9aa4" stroke="#000" stroke-width="3"/><path d="M110.2,506V911.4M101.5,911.4H714" stroke="#000" stroke-width="3.3" fill="none" stroke-linecap="butt"/><path d="M101.5,911.4H110" stroke="#000" stroke-width="3"/><text transform="translate(95.6,917.8) scale(1,0.8)" font-size="25" text-anchor="end">0</text><path d="M101.5,844.1H110" stroke="#000" stroke-width="3"/><text x="95.6" y="853.8" font-size="24.6" text-anchor="end">10</text><path d="M101.5,776.8H110" stroke="#000" stroke-width="3"/><text x="95.6" y="786.5" font-size="24.6" text-anchor="end">20</text><path d="M101.5,709.5H110" stroke="#000" stroke-width="3"/><text x="95.6" y="719.2" font-size="24.6" text-anchor="end">30</text><path d="M101.5,642.2H110" stroke="#000" stroke-width="3"/><text x="95.6" y="651.9" font-size="24.6" text-anchor="end">40</text><path d="M101.5,574.9H110" stroke="#000" stroke-width="3"/><text x="95.6" y="584.6" font-size="24.6" text-anchor="end">50</text><path d="M101.5,507.6H110" stroke="#000" stroke-width="3"/><text x="95.6" y="517.3" font-size="24.6" text-anchor="end">60</text><path d="M154.3,911.4V921.8" stroke="#000" stroke-width="3"/><text transform="translate(156.8,937) rotate(-30)" font-size="21.2" text-anchor="end">ΔUA-GlcNAc</text><path d="M227.8,911.4V921.8" stroke="#000" stroke-width="3"/><text transform="translate(230.6,937) rotate(-30)" font-size="21.2" text-anchor="end">ΔUA2S-GlcNAc</text><path d="M301.2,911.4V921.8" stroke="#000" stroke-width="3"/><text transform="translate(304.4,937) rotate(-30)" font-size="21.2" text-anchor="end">ΔUA-GlcNS</text><path d="M374.6,911.4V921.8" stroke="#000" stroke-width="3"/><text transform="translate(378.1,937) rotate(-30)" font-size="21.2" text-anchor="end">ΔUA2S-GlcNS</text><path d="M448,911.4V921.8" stroke="#000" stroke-width="3"/><text transform="translate(453.0,937) rotate(-30)" font-size="21.2" text-anchor="end">ΔUA-GlcNAc6S</text><path d="M521.4,911.4V921.8" stroke="#000" stroke-width="3"/><text transform="translate(527.9,937) rotate(-30)" font-size="21.2" text-anchor="end">ΔUA-GlcNS6S</text><path d="M594.8,911.4V921.8" stroke="#000" stroke-width="3"/><text transform="translate(602.6,937) rotate(-30)" font-size="21.2" text-anchor="end">ΔUA2S-GlcNAc6S</text><path d="M668.4,911.4V921.8" stroke="#000" stroke-width="3"/><text transform="translate(677.1,937) rotate(-30)" font-size="21.2" text-anchor="end">ΔUA2S-GlcNS6S</text><text transform="translate(49,680) rotate(-90)" font-size="24.6" text-anchor="middle">Relative content (%)</text><rect x="142.5" y="505.8" width="46.4" height="20.4" fill="#93cf96" stroke="#000" stroke-width="3"/><rect x="142.5" y="533.8" width="46.4" height="20.4" fill="#9a9aa4" stroke="#000" stroke-width="3"/><text x="201" y="523.5" font-size="19.7">Bioengineered heparin</text><text x="201" y="552.5" font-size="19.7">Animal-sourced heparin</text><text x="419" y="899.5" font-size="13.5">ND</text><text x="563.5" y="899.5" font-size="13.5">ND</text><circle cx="139.3" cy="862.0" r="7.8" fill="#fff" stroke="#000" stroke-width="1.1"/><circle cx="139.3" cy="868.4" r="7.8" fill="#fff" stroke="#000" stroke-width="1.1"/><circle cx="139.3" cy="870.3" r="7.8" fill="#fff" stroke="#000" stroke-width="1.1"/><circle cx="170.2" cy="909.5" r="7.8" fill="#fff" stroke="#000" stroke-width="1.1"/><circle cx="209.8" cy="911.5" r="7.8" fill="#fff" stroke="#000" stroke-width="1.1"/><circle cx="245.9" cy="911.5" r="7.8" fill="#fff" stroke="#000" stroke-width="1.1"/><path d="M289.4,899.0V904.0M289.4,899.0h0M289.4,904.0h0" stroke="#000" stroke-width="3"/><circle cx="289.4" cy="902.5" r="7.8" fill="#fff" stroke="#000" stroke-width="1.1"/><circle cx="317.3" cy="908.5" r="7.8" fill="#fff" stroke="#000" stroke-width="1.1"/><path d="M360.1,677.3V692.5M351.1,677.3h18M351.1,692.5h18" stroke="#000" stroke-width="3"/><circle cx="360.1" cy="672.6" r="7.8" fill="#fff" stroke="#000" stroke-width="1.1"/><circle cx="360.1" cy="693.4" r="7.8" fill="#fff" stroke="#000" stroke-width="1.1"/><circle cx="360.1" cy="708.5" r="7.8" fill="#fff" stroke="#000" stroke-width="1.1"/><circle cx="389.4" cy="677.3" r="7.8" fill="#fff" stroke="#000" stroke-width="1.1"/><circle cx="389.4" cy="683.9" r="7.8" fill="#fff" stroke="#000" stroke-width="1.1"/><circle cx="389.4" cy="690.6" r="7.8" fill="#fff" stroke="#000" stroke-width="1.1"/><circle cx="462.0" cy="906.4" r="7.8" fill="#fff" stroke="#000" stroke-width="1.1"/><circle cx="506.7" cy="888.5" r="7.8" fill="#fff" stroke="#000" stroke-width="1.1"/><circle cx="506.7" cy="865.1" r="7.8" fill="#fff" stroke="#000" stroke-width="1.1"/><circle cx="506.7" cy="869.8" r="7.8" fill="#fff" stroke="#000" stroke-width="1.1"/><circle cx="535.8" cy="856.5" r="7.8" fill="#fff" stroke="#000" stroke-width="1.1"/><circle cx="535.8" cy="856.0" r="7.8" fill="#fff" stroke="#000" stroke-width="1.1"/><circle cx="609.5" cy="907.0" r="7.8" fill="#fff" stroke="#000" stroke-width="1.1"/><path d="M653.4,530.2V561.4M644.4,530.2h18M644.4,561.4h18" stroke="#000" stroke-width="3"/><circle cx="653.4" cy="561.4" r="7.8" fill="#fff" stroke="#000" stroke-width="1.1"/><circle cx="653.4" cy="542.0" r="7.8" fill="#fff" stroke="#000" stroke-width="1.1"/><circle cx="653.4" cy="530.2" r="7.8" fill="#fff" stroke="#000" stroke-width="1.1"/><circle cx="682.9" cy="531.2" r="7.8" fill="#fff" stroke="#000" stroke-width="1.1"/><circle cx="682.9" cy="543.0" r="7.8" fill="#fff" stroke="#000" stroke-width="1.1"/><circle cx="682.9" cy="539.7" r="7.8" fill="#fff" stroke="#000" stroke-width="1.1"/></g><g id="chartC"><text x="756.8" y="485.9" font-size="26.4" font-weight="bold">C</text><rect x="928.7" y="607.2" width="37.5" height="306.3" fill="#4169b3" stroke="#000" stroke-width="3"/><rect x="966.2" y="770.3" width="36.2" height="143.2" fill="#da6838" stroke="#000" stroke-width="3"/><rect x="1076.0" y="580.2" width="37.0" height="333.3" fill="#4169b3" stroke="#000" stroke-width="3"/><rect x="1113.0" y="727.2" width="35.8" height="186.3" fill="#da6838" stroke="#000" stroke-width="3"/><path d="M891.5,533.5V913.5M1187,533.5V913.5M883,913.5H1195.5" stroke="#000" stroke-width="3" fill="none"/><path d="M883,913.5H891.5M1187,913.5H1195.5" stroke="#000" stroke-width="3"/><text x="878.5" y="921.4" font-size="22.6" text-anchor="end">0</text><text x="1200" y="921.4" font-size="22.6">0</text><path d="M883,837.8H891.5M1187,837.8H1195.5" stroke="#000" stroke-width="3"/><text x="878.5" y="845.7" font-size="22.6" text-anchor="end">20</text><text x="1200" y="845.7" font-size="22.6">20</text><path d="M883,762.1H891.5M1187,762.1H1195.5" stroke="#000" stroke-width="3"/><text x="878.5" y="770.0" font-size="22.6" text-anchor="end">40</text><text x="1200" y="770.0" font-size="22.6">40</text><path d="M883,686.4H891.5M1187,686.4H1195.5" stroke="#000" stroke-width="3"/><text x="878.5" y="694.3" font-size="22.6" text-anchor="end">60</text><text x="1200" y="694.3" font-size="22.6">60</text><path d="M883,610.7H891.5M1187,610.7H1195.5" stroke="#000" stroke-width="3"/><text x="878.5" y="618.6" font-size="22.6" text-anchor="end">80</text><text x="1200" y="618.6" font-size="22.6">80</text><path d="M883,535.0H891.5M1187,535.0H1195.5" stroke="#000" stroke-width="3"/><text x="878.5" y="542.9" font-size="22.6" text-anchor="end">100</text><text x="1200" y="542.9" font-size="22.6">100</text><path d="M966.2,913.5V923.5" stroke="#000" stroke-width="3"/><path d="M1113,913.5V923.5" stroke="#000" stroke-width="3"/><text transform="translate(837.5,710) rotate(-90)" font-size="24.8" text-anchor="middle">Anti-FXa activity (ng mL<tspan dy="-9" font-size="14">-1</tspan><tspan dy="9">)</tspan></text><text transform="translate(1259.8,711) rotate(-90)" font-size="24.8" text-anchor="middle">Anti-FIIa activity (ng mL<tspan dy="-9" font-size="14">-1</tspan><tspan dy="9">)</tspan></text><rect x="913.5" y="500" width="47" height="20" fill="#4169b3" stroke="#000" stroke-width="3"/><rect x="913.5" y="528" width="47" height="20" fill="#da6838" stroke="#000" stroke-width="3"/><text x="970.5" y="515" font-size="19.9">Anti-FXa activity</text><text x="970.5" y="544" font-size="19.9">Anti-FIIa activity</text><text transform="translate(970,944.2) rotate(-30)" font-size="24.8" text-anchor="end">Bioengineered</text><text transform="translate(954.5,985.5) rotate(-30)" font-size="24.8" text-anchor="end">heparin</text><text transform="translate(1137,938) rotate(-30)" font-size="24.8" text-anchor="end">Animal-sourced</text><text transform="translate(1117.5,983.5) rotate(-30)" font-size="24.8" text-anchor="end">heparin</text><path d="M947.0,592.0V607.0" stroke="#000" stroke-width="3"/><circle cx="947.0" cy="590.2" r="8.2" fill="#fff" stroke="#000" stroke-width="1.1"/><circle cx="947.0" cy="612.6" r="8.2" fill="#fff" stroke="#000" stroke-width="1.1"/><circle cx="947.0" cy="624.2" r="8.2" fill="#fff" stroke="#000" stroke-width="1.1"/><circle cx="984.0" cy="761.9" r="8.2" fill="#fff" stroke="#000" stroke-width="1.1"/><circle cx="984.0" cy="778.2" r="8.2" fill="#fff" stroke="#000" stroke-width="1.1"/><circle cx="1094.2" cy="566.0" r="8.2" fill="#fff" stroke="#000" stroke-width="1.1"/><circle cx="1094.2" cy="583.1" r="8.2" fill="#fff" stroke="#000" stroke-width="1.1"/><circle cx="1094.2" cy="588.8" r="8.2" fill="#fff" stroke="#000" stroke-width="1.1"/><circle cx="1131.2" cy="716.5" r="8.2" fill="#fff" stroke="#000" stroke-width="1.1"/><circle cx="1131.2" cy="729.4" r="8.2" fill="#fff" stroke="#000" stroke-width="1.1"/><circle cx="1131.2" cy="735.5" r="8.2" fill="#fff" stroke="#000" stroke-width="1.1"/></g>
</svg>
</body></html>
